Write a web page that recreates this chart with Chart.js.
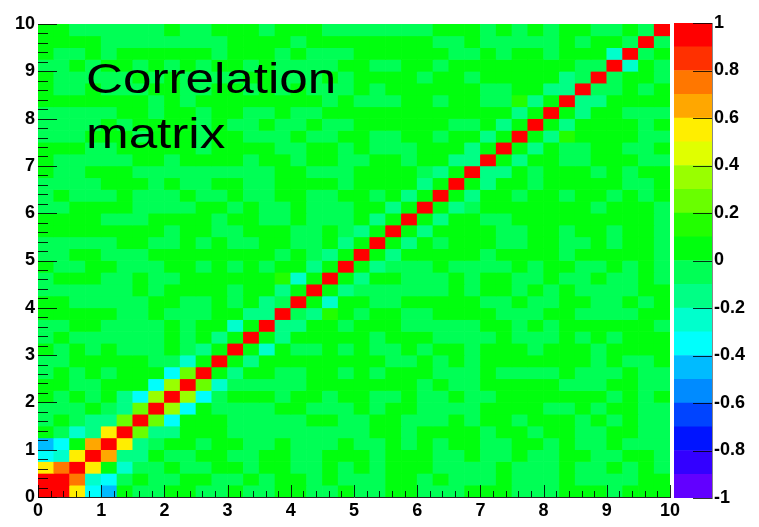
<!DOCTYPE html>
<html>
<head>
<meta charset="utf-8">
<title>Correlation matrix</title>
<script src="https://cdn.jsdelivr.net/npm/chart.js@4.4.1/dist/chart.umd.min.js"></script>
<style>
  html, body { margin: 0; padding: 0; background: #fff; overflow: hidden; }
  #wrap { position: relative; width: 759px; height: 527px; }
  #matrix { position: absolute; left: 0; top: 0; }
  #palette { position: absolute; left: 674px; top: 0; }
  #label {
    position: absolute; left: 86px; top: 51px;
    font: 43px 'Liberation Sans', Arial, sans-serif; line-height: 55px; color: #000;
    transform: scaleX(1.19); transform-origin: 0 0; white-space: nowrap; pointer-events: none;
  }
</style>
</head>
<body>
<div id="wrap">
  <canvas id="matrix" width="759" height="527"></canvas>
  <canvas id="palette" width="85" height="527"></canvas>
  <div id="label">Correlation<br>matrix</div>
</div>
<script>
// 40 x 40 bins over [0,10] x [0,10]
const axisMin = 0;
const axisMax = 10;
const binCount = 40;

// one string per y bin (bottom first), one letter per x bin, see cellValues
const rowCodes = [
  "RR5cdgssggssgssggssgssggsssgggsssgggsggg",
  "RR7bcsgssggssgsggsgsssggsgsssgsssgssssgg",
  "57R5gbssgssggsggssgsgsgggssssgsssgssgsgs",
  "cb5R6aagssggssggssgggsgggssgssgssggssggs",
  "dcg6R5asggsggssgsssgssgsgsggssggsgssgsss",
  "gsba5R2aagggsssssssssggsggggsggsggssggss",
  "sgsaa2R2cgggsssssggssggsssgsggsgggsgsgss",
  "sssgsa2R3cgssssggsssgsggssssggggssgsggss",
  "gsgsgac3R3csgggsggsggssgssgssgggggggsgsg",
  "ggssgggc3R2bsssssgggggggsgssgggggsssggss",
  "sgsgsgggc2Rgaggssggsgsgggsssgssssgsssgss",
  "ssgggggssbgRgaggggggggssgsgsgggggggsgssg",
  "gsgsgsssgsagRgbgssgsgssgsggsgggsgggsgggg",
  "sgssssssgsgagRgagggggsgggssssgsssgsgsggg",
  "ssggssssgsggbgRaaggsgggsssssggsgsggggggs",
  "gggggssgsssggaaRsa1gsggssggggsssggssssgg",
  "ggsssssggssgsgasRgbggssgggggssgssggssgsg",
  "ssssssgsggggsggagRgassssssgsggsgsgssssgg",
  "sgggssgssgggggg1bgRgaggsssgsggssgssgssgs",
  "gssggsssggsgsgsggagRgasssgssssgsggssgsgs",
  "ssggsssggggggggsgsagRgagggggsggggsgggggs",
  "sssssggssgsgssggssgagRgagsgggssggssgsggs",
  "ggggggggsggssgggssgsagRgaggggssggsggsggs",
  "ggggsssggggsggssgsssgagRgaggssgggggggggs",
  "ssggggssssggsgssgsssggagRgasgggggggsgggs",
  "sgsssgsssgssgssggssggsgagRgaggsggsggsgsg",
  "ssssgggsgssggssggggsggggagRgaggsgggggssg",
  "gssgggsssssssssggsssggggsagRaagsgggsgsgg",
  "gsssssggsggggsggsggssggsggaaRgaggssgggss",
  "gggssgggggsggggssggsgsssgggagRgagssggssg",
  "sssgggsgggsggsssgssggssggsggagRga1ggggss",
  "ssssgsggggsgssgssgssggggggssgagRgaggggsg",
  "sssssggsggsggssgssggggggggggggagRgaggsss",
  "gggggggsgsggggggggsgsssggsggss1agRaagggg",
  "gssgsssggssggsgsgsssgsggggggssggaaRssgsg",
  "gsssssgsgssssggsssgsggggsggsgggggasRsggs",
  "ssgsggsgsgsggsgssssggssggsggggggggssRbgs",
  "gssgsggggggsgggsgsssggggggssgsggsgggbRsg",
  "ggggssssssssggggsggggggggssgsssssgsggsRs",
  "ggssssssgssgggsgggsssssssgggsgsgsggssgsR"
];

// letter -> correlation
const cellValues = {
  R: 0.96, '7': 0.75, '6': 0.65, '5': 0.55, '3': 0.35, '2': 0.25, '1': 0.15,
  g: 0.04, s: -0.04, a: -0.14, b: -0.24, c: -0.34, d: -0.45
};

// contour levels of the palette (20 bands)
const contourEdges = [-1, -0.9, -0.8, -0.7, -0.6, -0.5, -0.4, -0.3, -0.2, -0.1, 0,
                      0.1, 0.2, 0.3, 0.4, 0.5, 0.6, 0.7, 0.8, 0.9, 1];

const paletteColors = [
  'rgb(98,0,255)', 'rgb(51,0,255)', 'rgb(0,20,255)', 'rgb(0,68,255)', 'rgb(0,139,255)',
  'rgb(0,187,255)', 'rgb(0,255,252)', 'rgb(0,255,204)', 'rgb(0,255,133)', 'rgb(0,255,85)',
  'rgb(0,255,14)', 'rgb(34,255,0)', 'rgb(105,255,0)', 'rgb(153,255,0)', 'rgb(224,255,0)',
  'rgb(255,238,0)', 'rgb(255,167,0)', 'rgb(255,119,0)', 'rgb(255,48,0)', 'rgb(255,0,0)'
];

const labelFont = { family: "'Liberation Sans', Arial, sans-serif", size: 18, weight: 'bold' };

function colorFor(v) {
  let k = 0;
  for (let i = 0; i < paletteColors.length; i++) {
    if (v >= contourEdges[i]) k = i;
  }
  return paletteColors[k];
}

const binWidth = (axisMax - axisMin) / binCount;
const cells = [];
rowCodes.forEach((row, j) => {
  [...row].forEach((code, i) => {
    cells.push({
      x: axisMin + (i + 0.5) * binWidth,
      y: [axisMin + j * binWidth, axisMin + (j + 1) * binWidth],
      v: cellValues[code]
    });
  });
});

// ROOT style ticks drawn inwards from the axes
const frameTicks = {
  id: 'frameTicks',
  afterDatasetsDraw(chart) {
    const { ctx, chartArea: area, scales: { x, y } } = chart;
    ctx.save();
    ctx.strokeStyle = 'rgba(0,0,0,0.85)';
    ctx.lineWidth = 1;
    ctx.beginPath();
    for (let i = 0; i <= 50; i++) {
      const v = i * 0.2;
      const major = i % 5 === 0;
      const px = Math.round(x.getPixelForValue(v)) + 0.5;
      ctx.moveTo(px, area.bottom);
      ctx.lineTo(px, area.bottom - (major ? 12 : 6));
      const py = Math.round(y.getPixelForValue(v)) + 0.5;
      ctx.moveTo(area.left, py);
      ctx.lineTo(area.left + (major ? 19 : 10), py);
    }
    ctx.stroke();
    ctx.restore();
  }
};

new Chart(document.getElementById('matrix'), {
  type: 'bar',
  data: {
    datasets: [{
      data: cells,
      backgroundColor: c => colorFor(c.raw.v),
      borderWidth: 0,
      grouped: false,
      categoryPercentage: 1,
      barPercentage: 1
    }]
  },
  options: {
    responsive: false,
    animation: false,
    events: [],
    layout: { padding: { top: 24, right: 89, left: 0, bottom: 0 } },
    plugins: { legend: { display: false }, tooltip: { enabled: false } },
    scales: {
      x: {
        type: 'linear', min: axisMin, max: axisMax, offset: false,
        grid: { display: false, offset: false, drawTicks: false },
        border: { display: true, color: '#222', width: 1 },
        ticks: { stepSize: 1, padding: 3, color: '#000', font: labelFont, maxRotation: 0, autoSkip: false },
        afterFit: s => { s.height = 30; }
      },
      y: {
        type: 'linear', min: axisMin, max: axisMax,
        grid: { display: false, drawTicks: false },
        border: { display: true, color: '#222', width: 1 },
        ticks: { stepSize: 1, padding: 3, color: '#000', font: labelFont, autoSkip: false },
        afterFit: s => { s.width = 38; }
      }
    }
  },
  plugins: [frameTicks]
});

// colour scale ticks, drawn from the right edge into the bar
const paletteTicks = {
  id: 'paletteTicks',
  afterDatasetsDraw(chart) {
    const { ctx, chartArea: area, scales: { y } } = chart;
    ctx.save();
    ctx.strokeStyle = 'rgba(0,0,0,0.8)';
    ctx.lineWidth = 1;
    ctx.beginPath();
    y.ticks.forEach(t => {
      const py = Math.round(y.getPixelForValue(t.value)) + 0.5;
      ctx.moveTo(area.right, py);
      ctx.lineTo(area.right - 19, py);
    });
    ctx.stroke();
    ctx.restore();
  }
};

new Chart(document.getElementById('palette'), {
  type: 'bar',
  data: {
    labels: [''],
    datasets: paletteColors.map((col, k) => ({
      data: [[contourEdges[k], contourEdges[k + 1]]],
      backgroundColor: col,
      borderWidth: 0,
      grouped: false,
      categoryPercentage: 1,
      barPercentage: 1
    }))
  },
  options: {
    responsive: false,
    animation: false,
    events: [],
    layout: { padding: { top: 23, bottom: 29, left: 0, right: 0 } },
    plugins: { legend: { display: false }, tooltip: { enabled: false } },
    scales: {
      x: { display: false },
      y: {
        position: 'right', min: -1, max: 1,
        grid: { display: false, drawTicks: false },
        border: { display: true, color: '#888', width: 1 },
        ticks: {
          stepSize: 0.2, padding: 2, color: '#000', font: labelFont, autoSkip: false,
          callback: v => String(Math.round(v * 10) / 10)
        },
        afterFit: s => { s.width = 47; }
      }
    }
  },
  plugins: [paletteTicks]
});
</script>
</body>
</html>
